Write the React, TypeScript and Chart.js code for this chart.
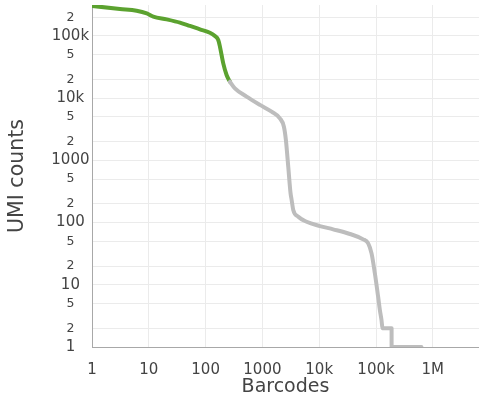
import React, { useEffect, useRef } from 'react';
import { Chart, registerables } from 'chart.js';
Chart.register(...registerables);

const cellRanks = [1, 3.1, 6.1, 9.2, 12, 20.6, 35.3, 53, 79.5, 119, 146, 167, 179, 191, 205, 234, 268];
const cellCounts = [305000, 272000, 255000, 231000, 205000, 185000, 164000, 145000, 128000, 113000, 100000, 86000, 67000, 49500, 36000, 23600, 18400];

const bgRanks = [268, 328, 527, 904, 1450, 2030, 2390, 2590, 2850, 3130, 3270, 3490, 4280, 6000, 10300, 17600, 34700, 59400, 72800, 83400, 95400, 109000, 117000, 125000, 130000, 188000, 188000, 631000];
const bgCounts = [18400, 14400, 10600, 7800, 6070, 4750, 3480, 2130, 792, 296, 231, 160, 124, 103, 88, 78, 65.6, 53.8, 46.4, 32, 15.3, 6.4, 3.9, 2.7, 2, 2, 1, 1];

const xTickValues = [1, 10, 100, 1000, 10000, 100000, 1000000];
const xTickLabels = ['1', '10', '100', '1000', '10k', '100k', '1M'];

const yTickValues = [1, 2, 5, 10, 20, 50, 100, 200, 500, 1000, 2000, 5000, 10000, 20000, 50000, 100000, 200000];
const yTickLabels = ['1', '2', '5', '10', '2', '5', '100', '2', '5', '1000', '2', '5', '10k', '2', '5', '100k', '2'];

const FONT = "'DejaVu Sans', Verdana, sans-serif";
const TEXT = '#444';

function isDecade(v: number) {
  return xTickValues.indexOf(v) >= 0;
}

export default function App() {
  const ref = useRef<HTMLCanvasElement | null>(null);
  useEffect(() => {
    if (!ref.current) return;
    const chart = new Chart(ref.current, {
      type: 'scatter',
      data: {
        datasets: [
          {
            label: 'Background',
            data: bgRanks.map((x, i) => ({ x, y: bgCounts[i] })),
            showLine: true,
            borderColor: '#bdbdbd',
            backgroundColor: '#bdbdbd',
            borderWidth: 4,
            pointRadius: 0,
            cubicInterpolationMode: 'monotone',
            borderJoinStyle: 'round',
            borderCapStyle: 'round',
          },
          {
            label: 'Cells',
            data: cellRanks.map((x, i) => ({ x, y: cellCounts[i] })),
            showLine: true,
            borderColor: '#5ba22f',
            backgroundColor: '#5ba22f',
            borderWidth: 4,
            pointRadius: 0,
            cubicInterpolationMode: 'monotone',
            borderJoinStyle: 'round',
            borderCapStyle: 'round',
          },
        ],
      },
      options: {
        responsive: false,
        animation: false,
        devicePixelRatio: 1,
        layout: { padding: { top: 5, left: 0, right: 0, bottom: 0 } },
        plugins: {
          legend: { display: false },
          tooltip: { enabled: false },
        },
        scales: {
          x: {
            type: 'logarithmic',
            min: 1,
            max: 6500000,
            afterBuildTicks: (scale: any) => {
              scale.ticks = xTickValues.map((v) => ({ value: v, major: false }));
            },
            afterFit: (scale: any) => {
              scale.height = 58;
              scale.paddingLeft = 0;
              scale.paddingRight = 0;
              scale.paddingTop = 0;
              scale.paddingBottom = 0;
            },
            grid: { color: '#ebebeb', lineWidth: 1, drawTicks: false },
            border: { display: true, color: '#a8a8a8', width: 1 },
            ticks: {
              autoSkip: false,
              maxRotation: 0,
              padding: 14,
              color: TEXT,
              font: { family: FONT, size: 15 },
              callback: (value: any) => {
                const i = xTickValues.indexOf(Number(value));
                return i >= 0 ? xTickLabels[i] : '';
              },
            },
            title: {
              display: true,
              text: 'Barcodes',
              color: TEXT,
              font: { family: FONT, size: 19 },
              padding: { top: 0, bottom: 7 },
            },
          },
          y: {
            type: 'logarithmic',
            min: 1,
            max: 315000,
            afterBuildTicks: (scale: any) => {
              scale.ticks = yTickValues.map((v) => ({ value: v, major: false }));
            },
            afterFit: (scale: any) => {
              scale.width = 92;
              scale.paddingLeft = 0;
              scale.paddingRight = 0;
              scale.paddingTop = 0;
              scale.paddingBottom = 0;
            },
            grid: { color: '#ebebeb', lineWidth: 1, drawTicks: false },
            border: { display: true, color: '#a8a8a8', width: 1 },
            ticks: {
              autoSkip: false,
              crossAlign: 'center',
              padding: 2.5,
              color: TEXT,
              font: (ctx: any) => {
                const v = ctx && ctx.tick ? ctx.tick.value : 1;
                return { family: FONT, size: isDecade(v) ? 15 : 12.5 };
              },
              callback: (value: any) => {
                const i = yTickValues.indexOf(Number(value));
                return i >= 0 ? yTickLabels[i] : '';
              },
            },
            title: {
              display: true,
              text: 'UMI counts',
              color: TEXT,
              font: { family: FONT, size: 20.5 },
              padding: { top: 5, bottom: 0 },
            },
          },
        },
      },
    } as any);
    return () => chart.destroy();
  }, []);

  return (
    <div style={{ position: 'absolute', left: 0, top: 0, width: 479, height: 405 }}>
      <canvas ref={ref} width={479} height={405} style={{ display: 'block', width: 479, height: 405 }} />
    </div>
  );
}
